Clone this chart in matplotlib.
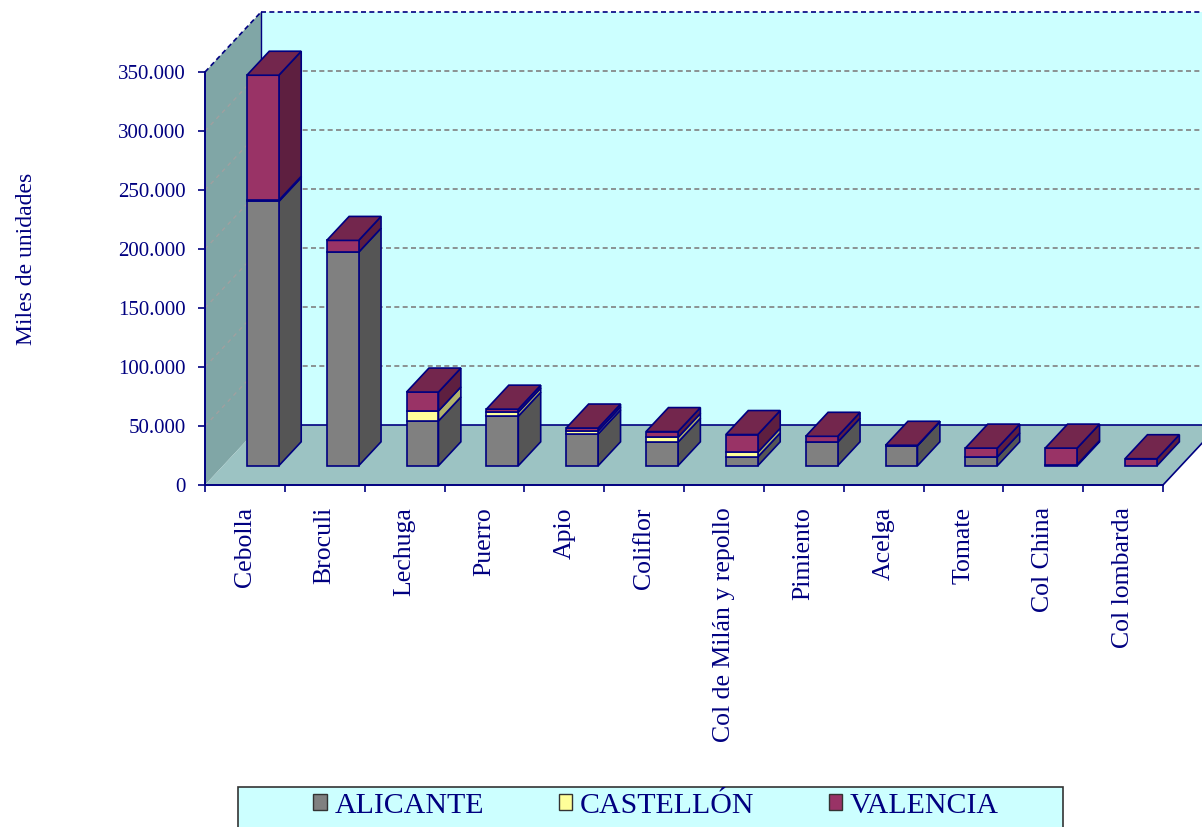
import matplotlib.pyplot as plt
from matplotlib.patches import Polygon, Patch, Rectangle

plt.rcParams['font.family'] = ['Liberation Serif', 'DejaVu Serif']

categorias = ['Cebolla', 'Broculi', 'Lechuga', 'Puerro', 'Apio', 'Coliflor',
              'Col de Milán y repollo', 'Pimiento', 'Acelga', 'Tomate',
              'Col China', 'Col lombarda']
alicante = [224000, 181000, 38000, 42000, 27000, 20000, 7500, 20000, 17000, 7500, 1000, 0]
castellon = [1000, 0, 8500, 3500, 2500, 4000, 4000, 0, 0, 0, 0, 0]
valencia = [106000, 10000, 16000, 2500, 2500, 5000, 15000, 5000, 400, 7500, 14000, 6000]
series = ['ALICANTE', 'CASTELLÓN', 'VALENCIA']
yticks = [0, 50000, 100000, 150000, 200000, 250000, 300000, 350000]

navy = '#000080'
# front, side, top colours per series
colores = [('#808080', '#555555', '#6b6b6b'),
           ('#FFFF99', '#B3B36B', '#CCCC7A'),
           ('#993366', '#5E1F40', '#73264D')]

fig = plt.figure(figsize=(12.02, 8.27), dpi=100)
ax = fig.add_axes([205 / 1202, 1 - 485 / 827, 958 / 1202, 413 / 827])
ax.set_xlim(0, 12)
ax.set_ylim(0, 350000)
ax.patch.set_visible(False)

# depth offset (full depth) in data units
DX = 56 / (958 / 12)
DY = 60 * 350000 / 413


def P(x, v, d):
    return (x + d * DX, v + d * DY)


def poly(pts, fc, ec=navy, lw=1.2, z=1):
    ax.add_patch(Polygon(pts, closed=True, facecolor=fc, edgecolor=ec,
                         linewidth=lw, zorder=z, clip_on=False))


def line(a, b, **kw):
    ax.plot([a[0], b[0]], [a[1], b[1]], clip_on=False, **kw)


XR = 13.5
# back wall
poly([P(0, 0, 1), P(XR, 0, 1), P(XR, 350000, 1), P(0, 350000, 1)], '#CCFFFF', ec='none', z=0.3)
line(P(0, 350000, 1), P(XR, 350000, 1), color=navy, lw=1.2, ls=(0, (3, 2)), zorder=0.7)
line(P(0, 0, 1), P(0, 350000, 1), color=navy, lw=1, zorder=0.7)
# side wall
poly([P(0, 0, 0), P(0, 350000, 0), P(0, 350000, 1), P(0, 0, 1)], '#80A6A6', ec='none', z=0.4)
line(P(0, 350000, 0), P(0, 350000, 1), color=navy, lw=1.2, ls=(0, (3, 2)), zorder=0.7)
# floor
poly([P(0, 0, 0), P(12, 0, 0), P(12, 0, 1), P(0, 0, 1)], '#9CC3C3', ec='none', z=0.45)
poly([P(12, 0, 1), P(XR, 0, 1), P(XR, 0, 0.5), P(12, 0, 0.5)], '#9CC3C3', ec='none', z=0.44)
poly([P(12, 0, 0), P(12, 0, 1), P(XR, 0, 1), P(XR, 0, 0)], 'white', ec='none', z=0.46)
line(P(0, 0, 1), P(XR, 0, 1), color=navy, lw=1.2, zorder=0.7)
line(P(12, 0, 0), P(12, 0, 1), color=navy, lw=1.2, zorder=0.7)

# gridlines
for v in yticks[1:-1]:
    line(P(0, v, 1), P(XR, v, 1), color='#808080', lw=1.2, ls=(0, (3, 2)), zorder=0.6)
    line(P(0, v, 0), P(0, v, 1), color='#A0A0A0', lw=1, ls=(0, (3, 3)), zorder=0.6)

# bars
w, d0, d1 = 0.4, 0.32, 0.72
for i in range(len(categorias)):
    x0 = i + 0.3
    b = 0
    top_col = None
    for vals, (cf, cs, ct) in zip([alicante, castellon, valencia], colores):
        val = vals[i]
        if val <= 0:
            continue
        poly([P(x0 + w, b, d0), P(x0 + w, b, d1), P(x0 + w, b + val, d1), P(x0 + w, b + val, d0)],
             cs, z=2 + i)
        poly([P(x0, b, d0), P(x0 + w, b, d0), P(x0 + w, b + val, d0), P(x0, b + val, d0)],
             cf, z=2 + i)
        b += val
        top_col = ct
    poly([P(x0, b, d0), P(x0 + w, b, d0), P(x0 + w, b, d1), P(x0, b, d1)], top_col, z=2 + i)

# axes styling
for s in ['top', 'right']:
    ax.spines[s].set_visible(False)
for s in ['left', 'bottom']:
    ax.spines[s].set_color(navy)
    ax.spines[s].set_linewidth(1.4)
    ax.spines[s].set_zorder(1)

ax.set_yticks(yticks)
ax.set_yticklabels([f'{v:,}'.replace(',', '.') for v in yticks])
ax.tick_params(axis='y', colors=navy, labelcolor=navy, labelsize=15, length=5, width=1.2, pad=9)
ax.set_xticks([i + 0.5 for i in range(len(categorias))])
ax.set_xticklabels(categorias, rotation=90, va='top', ha='center')
ax.set_xticks(range(13), minor=True)
ax.tick_params(axis='x', which='major', length=0, pad=16, labelsize=18.5, labelcolor=navy)
ax.tick_params(axis='x', which='minor', length=5, width=1.2, color=navy)

fig.text(26 / 1202, 1 - 259 / 827, 'Miles de unidades', rotation=90, ha='center',
         va='center', fontsize=17, color=navy)

# legend
fig.patches.append(Rectangle((238 / 1202, -0.02), 825 / 1202, 0.02 + 40 / 827,
                             transform=fig.transFigure, facecolor='#CCFFFF',
                             edgecolor='#333333', linewidth=1.2))
handles = [Patch(facecolor=c[0], edgecolor='#333333', linewidth=1) for c in colores]
leg = fig.legend(handles, series, loc='center', bbox_to_anchor=(656 / 1202, 1 - 806 / 827),
                 ncol=3, frameon=False, fontsize=21.5, handlelength=0.45, handleheight=0.45,
                 handletextpad=0.25, columnspacing=2.5)
for t in leg.get_texts():
    t.set_color(navy)

fig.savefig('out.png', dpi=100)
